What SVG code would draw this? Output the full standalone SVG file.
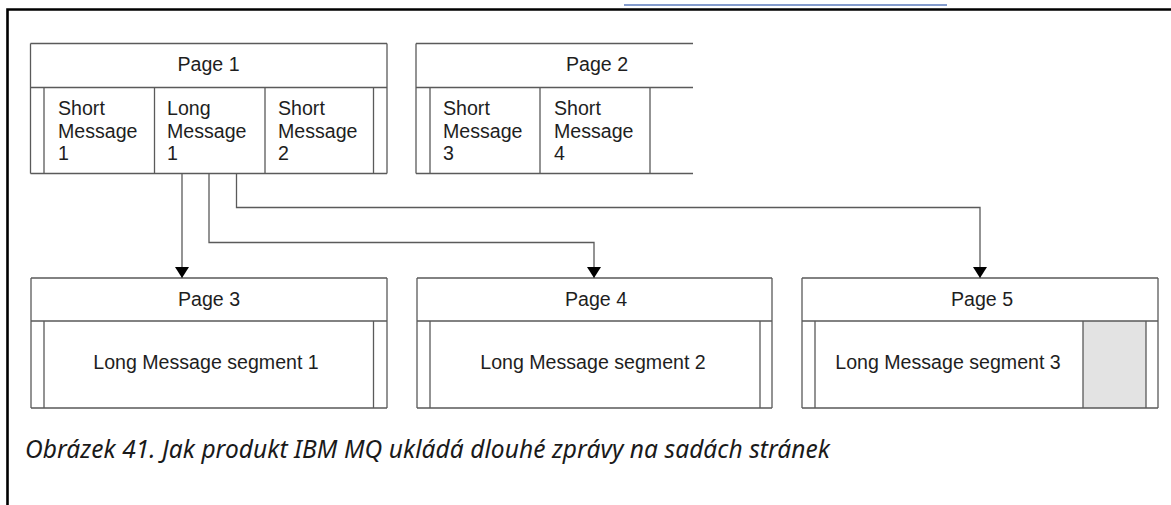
<svg xmlns="http://www.w3.org/2000/svg" width="1171" height="505" viewBox="0 0 1171 505">
<defs>
<style>
.ln{stroke:#5a5a5a;stroke-width:1.3;fill:none}
.t{font-family:"Liberation Sans",Arial,sans-serif;font-size:19.6px;fill:#1e1e1e}
.c{text-anchor:middle}
.cap{font-family:"Noto Sans","Open Sans",sans-serif;font-style:italic;font-size:24.5px;fill:#1a1a1a}
.frame{stroke:#000;stroke-width:2.6;fill:none}
</style>
<marker id="ah" markerWidth="11" markerHeight="14" refX="11" refY="7" orient="auto" markerUnits="userSpaceOnUse" viewBox="0 0 11 14">
<path d="M0,0 L11,7 L0,14 Z" fill="#000"/>
</marker>
</defs>
<rect width="1171" height="505" fill="#fff"/>
<line x1="624" y1="5" x2="947" y2="5" stroke="#5b7bbd" stroke-width="1.4"/>
<path class="frame" d="M7.5,505 V9.5 H1171"/>

<g id="page1">
<path class="ln" d="M30.5,43.5 H387 M30.5,87.5 H387 M30.5,173.5 H387 M30.5,43.5 V173.5 M387,43.5 V173.5 M44,87.5 V173.5 M154.5,87.5 V173.5 M265,87.5 V173.5 M373.5,87.5 V173.5"/>
<text class="t c" x="208.5" y="71">Page 1</text>
<text class="t" x="58" y="115">Short</text><text class="t" x="58" y="137.5">Message</text><text class="t" x="58" y="160">1</text>
<text class="t" x="167" y="115">Long</text><text class="t" x="167" y="137.5">Message</text><text class="t" x="167" y="160">1</text>
<text class="t" x="278" y="115">Short</text><text class="t" x="278" y="137.5">Message</text><text class="t" x="278" y="160">2</text>
</g>

<g id="page2">
<path class="ln" d="M416,43.5 H693 M416,87.5 H693 M416,173.5 H693 M416,43.5 V173.5 M430,87.5 V173.5 M540,87.5 V173.5 M650,87.5 V173.5"/>
<text class="t c" x="597" y="71">Page 2</text>
<text class="t" x="443" y="115">Short</text><text class="t" x="443" y="137.5">Message</text><text class="t" x="443" y="160">3</text>
<text class="t" x="554" y="115">Short</text><text class="t" x="554" y="137.5">Message</text><text class="t" x="554" y="160">4</text>
</g>

<g id="page3">
<path class="ln" d="M31,278 H387 M31,321 H387 M31,408 H387 M31,278 V408 M387,278 V408 M44,321 V408 M373.5,321 V408"/>
<text class="t c" x="209" y="306">Page 3</text>
<text class="t c" x="206" y="369">Long Message segment 1</text>
</g>

<g id="page4">
<path class="ln" d="M417,278 H772 M417,321 H772 M417,408 H772 M417,278 V408 M772,278 V408 M430,321 V408 M760,321 V408"/>
<text class="t c" x="596" y="306">Page 4</text>
<text class="t c" x="593" y="369">Long Message segment 2</text>
</g>

<g id="page5">
<rect x="1083" y="321" width="63" height="87" fill="#e3e3e3"/>
<path class="ln" d="M802,278 H1158 M802,321 H1158 M802,408 H1158 M802,278 V408 M1158,278 V408 M815,321 V408 M1083,321 V408 M1146,321 V408"/>
<text class="t c" x="982" y="306">Page 5</text>
<text class="t c" x="948" y="369">Long Message segment 3</text>
</g>

<g id="connectors">
<path class="ln" d="M182,173.5 V278" marker-end="url(#ah)"/>
<path class="ln" d="M209,173.5 V242.5 H594 V278" marker-end="url(#ah)"/>
<path class="ln" d="M236.5,173.5 V207.5 H980 V278" marker-end="url(#ah)"/>
</g>

<text class="cap" x="25" y="458" textLength="805" lengthAdjust="spacing">Obrázek 41. Jak produkt IBM MQ ukládá dlouhé zprávy na sadách stránek</text>
</svg>
